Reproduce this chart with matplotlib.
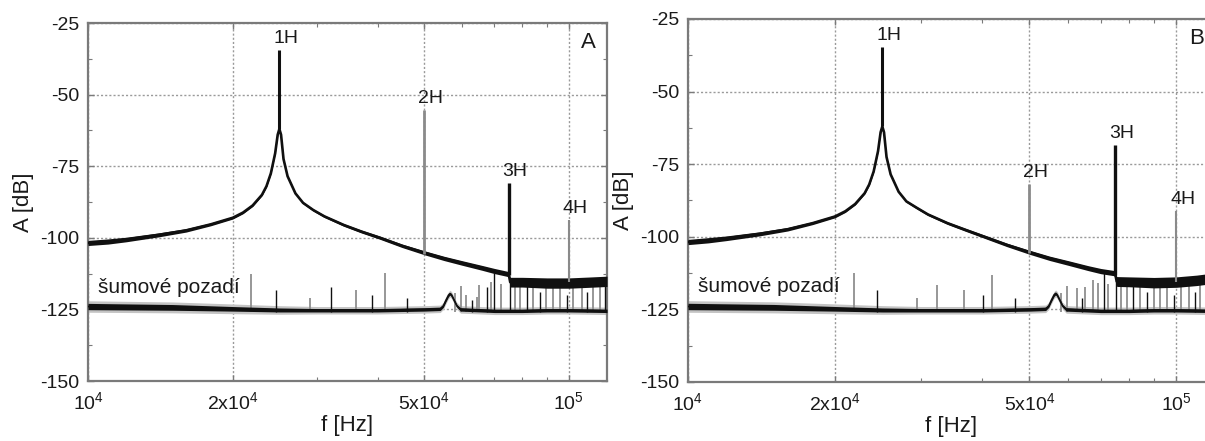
import numpy as np
import matplotlib
matplotlib.use("Agg")
import matplotlib.pyplot as plt
from matplotlib.ticker import FixedLocator, NullFormatter, LogLocator

plt.rcParams['font.family'] = ['Liberation Sans', 'DejaVu Sans']
plt.rcParams['mathtext.fontset'] = 'custom'
plt.rcParams['mathtext.rm'] = 'Liberation Sans'
plt.rcParams['mathtext.it'] = 'Liberation Sans:italic'
plt.rcParams['axes.unicode_minus'] = False

# ---- axes ----
Y_TICKS = [-150, -125, -100, -75, -50, -25]
Y_TICK_LABELS = ["-150", "-125", "-100", "-75", "-50", "-25"]
X_TICKS = [1e4, 2e4, 5e4, 1e5]
X_TICK_LABELS = [r"10$^4$", r"2x10$^4$", r"5x10$^4$", r"10$^5$"]
X_LIMITS = (1e4, 1.2e5)
Y_LIMITS = (-150, -25)

# ---- measured response (black trace) ----
A_FREQ = [1.00e4, 1.10e4, 1.20e4, 1.40e4, 1.60e4, 1.80e4, 2.00e4, 2.10e4,
          2.20e4, 2.30e4, 2.35e4, 2.40e4, 2.45e4, 2.48e4, 2.50e4, 2.52e4,
          2.55e4, 2.60e4, 2.70e4, 2.80e4, 2.94e4, 3.10e4, 3.40e4, 3.70e4,
          4.05e4, 4.50e4, 5.00e4, 5.50e4, 6.00e4, 6.60e4, 7.00e4, 7.45e4,
          7.50e4, 7.55e4, 8.00e4, 9.00e4, 1.00e5, 1.10e5, 1.20e5]
A_LEVEL = [-101.8, -101.3, -100.6, -99.0, -97.4, -95.3, -93.0, -91.2,
           -88.7, -85.0, -82.0, -77.5, -70.5, -64.0, -62.0, -64.0,
           -72.5, -78.5, -84.5, -87.8, -90.3, -92.5, -95.5, -97.8,
           -100.0, -102.8, -105.2, -107.2, -108.8, -110.5, -111.6, -112.6,
           -113.0, -115.5, -115.5, -115.8, -115.8, -115.5, -115.2]
A_SPREAD = [0.9, 0.9, 0.8, 0.7, 0.6, 0.5, 0.45, 0.4,
            0.35, 0.3, 0.3, 0.3, 0.3, 0.3, 0.3, 0.3,
            0.3, 0.3, 0.3, 0.35, 0.4, 0.4, 0.45, 0.5,
            0.55, 0.6, 0.7, 0.75, 0.8, 0.85, 0.9, 0.9,
            0.9, 1.7, 1.7, 1.8, 1.8, 1.8, 1.8]

B_FREQ = A_FREQ
B_LEVEL = [-101.8, -101.2, -100.5, -99.0, -97.4, -95.3, -93.0, -91.2,
           -88.7, -85.0, -82.0, -77.5, -70.5, -64.0, -62.0, -64.0,
           -72.5, -78.5, -84.5, -87.8, -90.0, -92.3, -95.3, -97.6,
           -100.0, -102.8, -105.3, -107.4, -109.0, -110.8, -111.8, -112.5,
           -113.0, -115.4, -115.5, -115.8, -115.6, -115.0, -114.2]
B_SPREAD = A_SPREAD

# ---- harmonics ----
HARM_NAMES = ["1H", "2H", "3H", "4H"]
HARM_FREQ = [2.5e4, 5.0e4, 7.5e4, 1.0e5]
HARM_SHADE = ["#101010", "#8a8a8a", "#101010", "#8a8a8a"]
HARM_WIDTH = [2.2, 2.0, 2.4, 1.5]
A_HARM_TOP = [-34.4, -55.4, -80.9, -93.8]
A_HARM_BASE = [-62.0, -105.5, -113.0, -115.5]
B_HARM_TOP = [-34.5, -81.7, -68.3, -91.0]
B_HARM_BASE = [-62.0, -105.5, -113.0, -115.5]

# ---- background noise (no excitation) ----
NOISE_FREQ = [1.00e4, 1.50e4, 2.00e4, 2.50e4, 3.00e4, 4.00e4, 5.00e4, 5.40e4,
              5.48e4, 5.55e4, 5.62e4, 5.66e4, 5.70e4, 5.77e4, 5.85e4, 5.95e4,
              7.00e4, 8.00e4, 9.00e4, 1.00e5, 1.20e5]
NOISE_LEVEL = [-124.0, -124.3, -124.8, -125.2, -125.3, -125.3, -125.0, -124.8,
               -123.8, -121.8, -120.0, -119.5, -120.0, -121.8, -123.8, -125.0,
               -125.5, -125.5, -125.3, -125.3, -125.5]
NOISE_SPREAD = [1.1, 1.0, 0.8, 0.7, 0.6, 0.6, 0.6, 0.6,
                0.5, 0.5, 0.5, 0.5, 0.5, 0.5, 0.5, 0.6,
                0.6, 0.6, 0.6, 0.6, 0.6]
NOISE_GRAY_SPREAD = [2.0, 1.9, 1.7, 1.5, 1.3, 1.3, 1.3, 1.3,
                     1.2, 1.2, 1.2, 1.2, 1.2, 1.2, 1.2, 1.3,
                     1.3, 1.3, 1.3, 1.3, 1.3]

# isolated interference lines in the noise record
A_SPUR_FREQ = [2.18e4, 2.46e4, 2.90e4, 3.20e4, 3.60e4, 3.90e4, 4.15e4, 4.60e4,
               5.80e4, 5.97e4, 6.10e4, 6.30e4, 6.43e4, 6.50e4, 6.75e4, 6.90e4,
               7.00e4, 7.23e4, 7.54e4, 7.72e4, 7.91e4, 8.17e4, 8.41e4, 8.69e4,
               8.98e4, 9.27e4, 9.58e4, 9.90e4, 1.02e5, 1.063e5, 1.09e5, 1.12e5,
               1.16e5, 1.19e5]
A_SPUR_TOP = [-112.5, -118.2, -121.0, -117.2, -118.2, -120.0, -112.3, -121.0,
              -119.3, -117.0, -120.0, -121.7, -120.7, -116.5, -117.2, -115.3,
              -112.3, -116.3, -115.0, -115.0, -115.5, -116.0, -115.0, -119.0,
              -115.5, -115.0, -116.0, -120.0, -115.0, -115.5, -119.0, -115.5,
              -116.0, -115.0]
A_SPUR_DARK = [0, 1, 0, 1, 0, 1, 0, 1,
               0, 0, 0, 1, 0, 0, 1, 0,
               1, 0, 1, 0, 0, 1, 0, 1,
               0, 0, 0, 1, 0, 0, 1, 0,
               0, 1]

B_SPUR_FREQ = [2.19e4, 2.44e4, 2.95e4, 3.24e4, 3.68e4, 4.02e4, 4.20e4, 4.67e4,
               5.80e4, 5.97e4, 6.27e4, 6.40e4, 6.50e4, 6.75e4, 6.90e4, 7.10e4,
               7.23e4, 7.54e4, 7.72e4, 7.91e4, 8.17e4, 8.41e4, 8.69e4, 8.98e4,
               9.27e4, 9.58e4, 9.90e4, 1.02e5, 1.063e5, 1.09e5, 1.12e5, 1.16e5,
               1.19e5]
B_SPUR_TOP = [-112.4, -118.3, -121.0, -116.6, -118.3, -120.0, -113.1, -121.0,
              -119.3, -117.0, -117.6, -121.0, -117.3, -115.0, -116.0, -112.4,
              -116.3, -115.0, -115.0, -115.5, -116.0, -115.0, -119.0, -115.5,
              -115.0, -116.0, -120.0, -115.0, -115.5, -119.0, -115.5, -116.0,
              -115.0]
B_SPUR_DARK = [0, 1, 0, 0, 0, 1, 0, 1,
               0, 0, 0, 1, 0, 0, 0, 1,
               0, 1, 0, 0, 1, 0, 1, 0,
               0, 0, 1, 0, 0, 1, 0, 0,
               1]

NOISE_NOTE = "šumové pozadí"
BLACK = "#101010"
GRAY = "#8f8f8f"
LIGHT = "#c4c4c4"
FRAME = "#7a7a7a"
TEXT = "#1a1a1a"


def draw_panel(ax, letter, freq, level, spread, harm_top, harm_base,
               spur_freq, spur_top, spur_dark):
    ax.set_xscale("log")
    ax.set_xlim(*X_LIMITS)
    ax.set_ylim(*Y_LIMITS)

    nf = np.array(NOISE_FREQ)
    nl = np.array(NOISE_LEVEL)
    # gray noise record underneath
    ax.fill_between(nf, nl - np.array(NOISE_GRAY_SPREAD), nl + np.array(NOISE_GRAY_SPREAD),
                    color=LIGHT, lw=0, zorder=2)
    # interference lines
    for f, t, d in zip(spur_freq, spur_top, spur_dark):
        ax.vlines(f, -126.0, t, color=BLACK if d else GRAY,
                  lw=1.0 if d else 1.3, zorder=3 if d else 2.5)
    # black noise record
    ax.fill_between(nf, nl - np.array(NOISE_SPREAD), nl + np.array(NOISE_SPREAD),
                    color=BLACK, lw=0, zorder=4)
    ax.plot(nf, nl, color=BLACK, lw=1.2, zorder=4)

    # response curve
    f = np.array(freq)
    lv = np.array(level)
    sp = np.array(spread)
    ax.fill_between(f, lv - sp, lv + sp, color=BLACK, lw=0, zorder=5)
    ax.plot(f, lv, color=BLACK, lw=1.9, zorder=5, solid_joinstyle="round")

    # harmonic lines with labels
    for name, hf, top, base, shade, w in zip(HARM_NAMES, HARM_FREQ, harm_top,
                                             harm_base, HARM_SHADE, HARM_WIDTH):
        ax.vlines(hf, base, top, color=shade, lw=w, zorder=6)
        ax.annotate(name, xy=(hf, top), xytext=(4.5, 8), textcoords="offset points",
                    ha="center", va="center", fontsize=14, color=TEXT, zorder=7)

    ax.text(0.019, -117.2, NOISE_NOTE, transform=ax.get_yaxis_transform(),
            ha="left", va="center", fontsize=15, color=TEXT, zorder=7)
    ax.text(0.965, 0.945, letter, transform=ax.transAxes, ha="center", va="center",
            fontsize=16, color=TEXT, zorder=7)

    # ticks, grid, frame
    ax.xaxis.set_major_locator(FixedLocator(X_TICKS))
    ax.set_xticklabels(X_TICK_LABELS)
    ax.xaxis.set_minor_locator(LogLocator(base=10, subs=(3, 4, 6, 7, 8, 9)))
    ax.xaxis.set_minor_formatter(NullFormatter())
    ax.set_yticks(Y_TICKS)
    ax.set_yticklabels(Y_TICK_LABELS)
    ax.yaxis.set_minor_locator(FixedLocator([-137.5, -112.5, -87.5, -62.5, -37.5]))
    ax.tick_params(axis="both", which="major", direction="in", length=4, width=1,
                   color=FRAME, labelsize=14, labelcolor=TEXT, top=True, right=True)
    ax.tick_params(axis="x", which="major", pad=7)
    ax.tick_params(axis="y", which="major", pad=6)
    ax.tick_params(axis="both", which="minor", direction="in", length=3, width=0.8,
                   color=FRAME, top=True, right=True)
    ax.grid(True, which="major", color="#9a9a9a", lw=1.0, ls=(0, (1.5, 1.5)), zorder=1)
    ax.set_axisbelow(True)
    for s in ax.spines.values():
        s.set_color(FRAME)
        s.set_linewidth(1.6)

    ax.set_xlabel("f [Hz]", fontsize=16, color=TEXT, labelpad=2)
    ax.set_ylabel("A [dB]", fontsize=16, color=TEXT, labelpad=5)


fig = plt.figure(figsize=(12.05, 4.41), dpi=100)
ax_a = fig.add_axes([0.07303, 0.13605, 0.43071, 0.81179])
ax_b = fig.add_axes([0.57095, 0.13379, 0.43734, 0.82313])

draw_panel(ax_a, "A", A_FREQ, A_LEVEL, A_SPREAD, A_HARM_TOP, A_HARM_BASE,
           A_SPUR_FREQ, A_SPUR_TOP, A_SPUR_DARK)
draw_panel(ax_b, "B", B_FREQ, B_LEVEL, B_SPREAD, B_HARM_TOP, B_HARM_BASE,
           B_SPUR_FREQ, B_SPUR_TOP, B_SPUR_DARK)

fig.savefig("out.png", dpi=100)
